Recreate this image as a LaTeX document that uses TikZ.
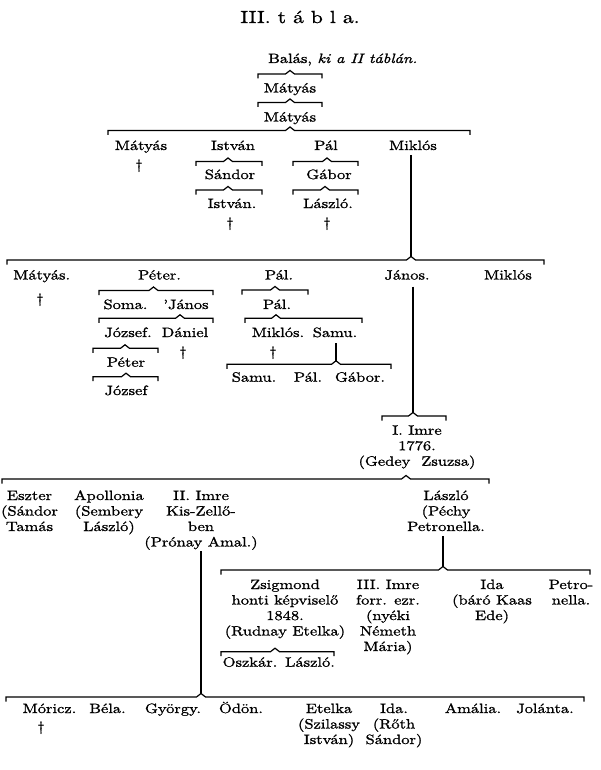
\documentclass[tikz,border=0pt]{standalone}
\usepackage{fontspec}
\setmainfont{lmroman10-regular.otf}[ItalicFont=lmroman10-italic.otf,BoldFont=lmroman10-bold.otf,FakeStretch=1.22,FakeBold=1.2]
\newcommand\ml[1]{\begin{tabular}[t]{@{}c@{}}#1\end{tabular}}
% bracket: name, x1, x2, notch x, y
\newcommand\brkt[5]{\coordinate (#1) at (#4,#5-3.5);
  \draw[brk] (#2,#5+4.5) -- (#2,#5) -- (#4-4.5,#5) -- (#1) -- (#4+4.5,#5) -- (#3,#5) -- (#3,#5+4.5);}
\tikzset{
  nm/.style={anchor=base,inner sep=0pt,font=\fontsize{13.5}{15.5}\selectfont},
  brk/.style={line width=1.2pt,line join=miter},
  vl/.style={line width=1.1pt}
}
\begin{document}
\begin{tikzpicture}[x=1pt,y=-1pt]
\fill[white] (0,0) rectangle (601,770);
\useasboundingbox (0,0) rectangle (601,770);

\node[anchor=base,inner sep=0pt,font=\fontsize{17.5}{20}\selectfont] (title) at (300,23) {III. t á b l a.};

\node[nm,anchor=base west] (balas) at (268,63) {Balás, \textit{ki a II táblán.}};
\brkt{b1}{258}{322}{290}{74}
\node[nm] (m1) at (290,92.5) {Mátyás};
\brkt{b2}{258}{322}{290}{102.5}
\node[nm] (m2) at (290,121.5) {Mátyás};
\brkt{b3}{108}{470}{290}{130.5}

% row 2
\node[nm] (r2a) at (141,150) {Mátyás};
\node[nm] (r2ad) at (139,169) {†};
\node[nm] (r2b) at (233,150) {István};
\node[nm] (r2c) at (326,150) {Pál};
\node[nm] (r2d) at (413,150) {Miklós};
\brkt{b4}{196}{262}{228}{161.5}
\node[nm] (sandor) at (230,179) {Sándor};
\brkt{b5}{196}{262}{228}{190}
\node[nm] (istvan2) at (232,208) {István.};
\node[nm] (istvan2d) at (230,227) {†};
\brkt{b6}{293}{358}{327}{161.5}
\node[nm] (gabor) at (329,179) {Gábor};
\brkt{b7}{293}{358}{325}{190}
\node[nm] (laszlo1) at (328,208) {László.};
\node[nm] (laszlo1d) at (327,227) {†};

\brkt{b8}{7}{544}{411}{260}
\draw[vl] (r2d.base -| b8) ++(0,5) -- (b8);

% row 3
\node[nm] (r3a) at (41.7,279.5) {Mátyás.};
\node[nm] (r3ad) at (40,303) {†};
\node[nm] (r3b) at (159.5,279.5) {Péter.};
\node[nm] (r3c) at (279,279.5) {Pál.};
\node[nm] (r3d) at (407,279.5) {János.};
\node[nm] (r3e) at (508,279.5) {Miklós};

\brkt{b9}{99}{213}{153.5}{290.5}
\node[nm] (soma) at (125.5,309) {Soma.};
\node[nm] (janos2) at (186,309) {'János};
\brkt{b10}{99}{213}{180}{318.3}
\node[nm] (jozsef1) at (128,337) {József.};
\node[nm] (daniel) at (185,337) {Dániel};
\node[nm] (danield) at (183,356) {†};
\brkt{b11}{93}{158}{125}{348.3}
\node[nm] (peter2) at (126,366.7) {Péter};
\brkt{b12}{93}{158}{126}{376.7}
\node[nm] (jozsef2) at (126,395) {József};

\brkt{b13}{242}{308}{275}{290}
\node[nm] (pal2) at (277,309) {Pál.};
\brkt{b14}{245}{362}{276}{318.3}
\node[nm] (miklos3) at (278,337) {Miklós.};
\node[nm] (miklos3d) at (273,356) {†};
\node[nm] (samu1) at (335,337) {Samu.};
\brkt{b15}{227}{391}{336}{364.3}
\draw[vl] (samu1.base -| b15) ++(0,6) -- (b15);
\node[nm] (samu2) at (254,381.7) {Samu.};
\node[nm] (pal3) at (308,381.7) {Pál.};
\node[nm] (gabor2) at (360,381.7) {Gábor.};

\brkt{b16}{382}{446}{413}{416}
\draw[vl] (r3d.base -| b16) ++(0,7) -- (b16);
\node[nm] (imre1) at (417,434.7) {\ml{I. Imre\\1776.\\(Gedey\ \ Zsuzsa)}};

% row 5
\brkt{b17}{2}{489}{406}{479}
\node[nm] (eszter) at (29.5,500) {\ml{Eszter\\(Sándor\\Tamás}};
\node[nm] (apoll) at (109,500) {\ml{Apollonia\\(Sembery\\László)}};
\node[nm] (imre2) at (201,500) {\ml{II. Imre\\Kis-Zellő-\\ben\\(Prónay Amal.)}};
\node[nm] (laszlo2) at (446,500) {\ml{László\\(Péchy\\Petronella.}};

\brkt{b18}{221}{590}{443}{570}
\draw[vl] (laszlo2.south -| b18) -- (b18);

% row 6
\node[nm] (zsig) at (285,589) {\ml{Zsigmond\\honti képviselő\\1848.\\(Rudnay Etelka)}};
\brkt{b19}{221}{334}{275}{651.7}
\node[nm] (oszkar) at (250,666.7) {Oszkár.};
\node[nm] (laszlo3) at (310,666.7) {László.};
\node[nm] (imre3) at (388,589) {\ml{III. Imre\\forr. ezr.\\(nyéki\\Németh\\Mária)}};
\node[nm] (ida1) at (492,589) {\ml{Ida\\(báró Kaas\\Ede)}};
\node[nm] (petro) at (571,589) {\ml{Petro-\\nella.}};

\brkt{b20}{6}{584}{201}{697}
\draw[vl] (imre2.south -| b20) -- (b20);

% row 7
\node[nm] (moricz) at (49.5,713) {Móricz.};
\node[nm] (moriczd) at (41,731) {†};
\node[nm] (bela) at (107.5,713) {Béla.};
\node[nm] (gyorgy) at (173,713) {György.};
\node[nm] (odon) at (241,713) {Ödön.};
\node[nm] (etelka) at (329,713) {\ml{Etelka\\(Szilassy\\István)}};
\node[nm] (ida2) at (394,713) {\ml{Ida.\\(Rőth\\Sándor)}};
\node[nm] (amalia) at (473,713) {Amália.};
\node[nm] (jolanta) at (545,713) {Jolánta.};
\end{tikzpicture}
\end{document}
